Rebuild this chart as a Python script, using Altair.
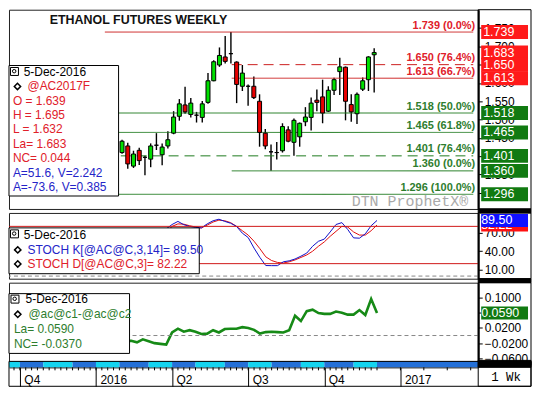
import altair as alt
import pandas as pd

FONT = "Liberation Sans"
MONO = "Liberation Mono"

# ---------------- data ----------------
weeks = [
    "2016-02-01", "2016-02-08", "2016-02-15", "2016-02-22", "2016-02-29",
    "2016-03-07", "2016-03-14", "2016-03-21", "2016-03-28",
    "2016-04-04", "2016-04-11", "2016-04-18", "2016-04-25",
    "2016-05-02", "2016-05-09", "2016-05-16", "2016-05-23", "2016-05-30",
    "2016-06-06", "2016-06-13", "2016-06-20", "2016-06-27",
    "2016-07-04", "2016-07-11", "2016-07-18", "2016-07-25",
    "2016-08-01", "2016-08-08", "2016-08-15", "2016-08-22", "2016-08-29",
    "2016-09-05", "2016-09-12", "2016-09-19", "2016-09-26",
    "2016-10-03", "2016-10-10", "2016-10-17", "2016-10-24", "2016-10-31",
    "2016-11-07", "2016-11-14", "2016-11-21", "2016-11-28",
    "2016-12-05",
]
opens = [1.410, 1.428, 1.373, 1.416, 1.397, 1.392, 1.430, 1.404, 1.428, 1.463,
         1.509, 1.540, 1.514, 1.512, 1.506, 1.547, 1.606, 1.649, 1.671, 1.680,
         1.657, 1.591, 1.591, 1.591, 1.550, 1.463, 1.412, 1.410, 1.415, 1.472,
         1.438, 1.453, 1.494, 1.506, 1.553, 1.562, 1.523, 1.580, 1.631, 1.643,
         1.541, 1.516, 1.583, 1.609, 1.677]
highs = [1.445, 1.437, 1.415, 1.423, 1.401, 1.435, 1.463, 1.435, 1.468, 1.523,
         1.556, 1.590, 1.559, 1.521, 1.551, 1.627, 1.662, 1.697, 1.728, 1.739,
         1.659, 1.649, 1.596, 1.618, 1.569, 1.474, 1.432, 1.439, 1.490, 1.482,
         1.503, 1.492, 1.534, 1.560, 1.582, 1.609, 1.591, 1.614, 1.669, 1.645,
         1.569, 1.574, 1.615, 1.673, 1.695]
lows = [1.407, 1.366, 1.368, 1.376, 1.348, 1.370, 1.417, 1.375, 1.421, 1.460,
        1.497, 1.516, 1.506, 1.492, 1.492, 1.543, 1.605, 1.644, 1.653, 1.653,
        1.545, 1.578, 1.538, 1.556, 1.426, 1.419, 1.360, 1.391, 1.410, 1.438,
        1.401, 1.426, 1.482, 1.470, 1.523, 1.490, 1.521, 1.567, 1.567, 1.498,
        1.494, 1.488, 1.578, 1.578, 1.574]
closes = [1.441, 1.379, 1.406, 1.388, 1.397, 1.428, 1.430, 1.425, 1.445, 1.507,
          1.543, 1.521, 1.545, 1.512, 1.543, 1.606, 1.658, 1.675, 1.659, 1.680,
          1.596, 1.627, 1.591, 1.560, 1.465, 1.428, 1.412, 1.410, 1.481, 1.441,
          1.498, 1.490, 1.507, 1.545, 1.547, 1.518, 1.580, 1.609, 1.644, 1.550,
          1.521, 1.569, 1.606, 1.671, 1.683]
stoch_k = [52, 38, 42, 36, 30, 42, 50, 55, 76, 83, 88, 82.7, 80, 78.5, 77.5, 84,
           89, 91.5, 88, 85, 80, 69, 62, 45, 30, 17, 16.8, 16.8, 23, 24.5, 27.5,
           32, 37, 48, 56, 59.5, 71, 83, 86, 75, 61.5, 61, 68, 81, 89.5]
stoch_d = [55, 45, 40, 39, 36, 36, 41, 49, 70, 80, 84, 83.5, 81, 79, 77.5, 82,
           87, 90, 89, 86, 80, 73, 66, 56, 44, 31, 25, 22, 21, 23, 26, 30, 34,
           40, 48, 55, 64, 72, 80, 79, 71, 66, 66, 73, 82.22]
spread = [-0.012, -0.014, -0.014, -0.018, -0.010, -0.015, -0.020, -0.022, -0.024,
          0.008, 0.018, 0.010, 0.014, 0.010, 0.004, 0.005, 0.014, 0.008, 0.017,
          0.018, 0.018, 0.022, 0.020, 0.015, 0.005, 0.009, 0.010, 0.009, 0.008,
          0.014, 0.052, 0.038, 0.064, 0.068, 0.059, 0.057, 0.057, 0.063, 0.060,
          0.055, 0.055, 0.067, 0.054, 0.096, 0.059]

levels = [1.739, 1.650, 1.613, 1.518, 1.465, 1.401, 1.360, 1.296]
level_pct = ["0.0%", "76.4%", "66.7%", "50.0%", "61.8%", "76.4%", "0.0%", "100.0%"]
level_side = ["red", "red", "red", "green", "green", "green", "green", "green"]
level_dash = ["solid", "dash", "solid", "solid", "solid", "dash", "solid", "solid"]
level_start = ["2016-01-11", "2016-06-14", "2016-06-14", "2016-01-11",
               "2016-01-11", "2016-01-11", "2016-06-14", "2016-01-11"]

price_boxes = [1.739, 1.683, 1.650, 1.613, 1.518, 1.465, 1.401, 1.360, 1.296]
price_box_side = ["red"] * 4 + ["green"] * 5

price_ticks = [1.30, 1.35, 1.40, 1.45, 1.50, 1.55, 1.60, 1.65, 1.70, 1.75]
stoch_ticks = [10, 40, 70]
spread_ticks = [-0.06, -0.02, 0.02, 0.06, 0.10]

band_start = ["2015-09-22", "2015-10-05", "2015-11-02", "2015-12-07", "2016-01-04",
              "2016-02-01", "2016-03-07", "2016-04-04", "2016-05-02", "2016-06-06",
              "2016-07-04", "2016-08-01", "2016-09-05", "2016-10-03", "2016-11-07",
              "2016-12-05"]
band_end = band_start[1:] + ["2017-04-05"]

# ---------------- style ----------------
W, RC = 471, 53
HT, HS, HP = 200, 66, 79
STRIP = 6
RED_BODY, GREEN_BODY = "#e80000", "#00e000"
LINE_RED, LINE_GREEN = "#cc1f1f", "#1f7a1f"
TXT_RED, TXT_GREEN = "#e0202a", "#2e7d2e"
BOX_RED, BOX_GREEN = "#ff1a1a", "#117a11"
TXT_BLUE = "#2424c8"
K_BLUE, D_RED = "#1010c8", "#e01010"
SPREAD_GREEN = "#168a16"
CYAN, BLUE = "#14d4f0", "#2470d8"

END = "2017-04-05"
xs = alt.Scale(type="utc", domain=[alt.DateTime(year=2015, month=9, date=22, utc=True),
                                   alt.DateTime(year=2017, month=4, date=5, utc=True)])
ONE = pd.DataFrame({"t": [0]})


def raxis(values, fmt):
    return alt.Axis(orient="right", values=values, format=fmt, title=None, grid=False,
                    domainColor="black", domainWidth=2, tickColor="black", tickSize=4,
                    labelPadding=2, labelFont=FONT, labelFontSize=12, labelColor="black",
                    labelOverlap=False, labelFlush=False)


AX_T = raxis(price_ticks, ".3f")
AX_S = raxis(stoch_ticks, ".2f")
AX_P = raxis(spread_ticks, ".4f")
XAX = alt.Axis(
    values=[alt.DateTime(year=2015, month=10, date=5, utc=True),
            alt.DateTime(year=2016, month=1, date=4, utc=True),
            alt.DateTime(year=2016, month=4, date=4, utc=True),
            alt.DateTime(year=2016, month=7, date=4, utc=True),
            alt.DateTime(year=2016, month=10, date=3, utc=True),
            alt.DateTime(year=2017, month=1, date=2, utc=True)],
    labelExpr="utcmonth(datum.value) == 0 ? utcFormat(datum.value, '%Y') : 'Q' + (floor(utcmonth(datum.value) / 3) + 1)",
    offset=STRIP, tickSize=19, tickColor="black", domainColor="black", labelAlign="left",
    labelBaseline="middle", labelPadding=-6.5, labelOffset=4, labelFont=FONT, labelFontSize=12,
    labelColor="black", grid=False, title=None, labelOverlap=False, labelFlush=False)


def xenc(field, axis=None):
    if axis is None:
        return alt.X(field, scale=xs, axis=None)
    return alt.X(field, scale=xs, axis=axis)


def text_at(s, x, y, color="black", size=12, align="left", weight="normal", font=FONT):
    return alt.Chart(pd.DataFrame({"t": [s]})).mark_text(
        align=align, baseline="middle", fontSize=size, fontWeight=weight, font=font,
        color=color).encode(x=alt.value(x), y=alt.value(y), text="t:N")


def box_at(x1, x2, y1, y2, fill="white", opacity=1.0, stroke="black", sw=1.0):
    return alt.Chart(ONE).mark_rect(fill=fill, fillOpacity=opacity, stroke=stroke,
                                    strokeWidth=sw).encode(
        x=alt.value(x1), x2=alt.value(x2), y=alt.value(y1), y2=alt.value(y2))


def diamond_at(x, y):
    return alt.Chart(ONE).mark_point(shape="diamond", size=40, filled=True, fill="white",
                                     stroke="black", strokeWidth=1.5, opacity=1).encode(
        x=alt.value(x), y=alt.value(y))


def icon_at(x, y):
    sq = box_at(x, x + 8, y, y + 8)
    c = alt.Chart(ONE).mark_point(shape="circle", size=12, filled=False, stroke="black",
                                  strokeWidth=1, opacity=1).encode(
        x=alt.value(x + 3.7), y=alt.value(y + 3.7))
    return alt.layer(sq, c)


def right_column(h):
    return alt.layer(box_at(W, W + RC, 0, h, fill="white", opacity=0.0, sw=1),
                     box_at(W, W + RC, h, h + 4, fill="black", stroke="black"))


# ---------------- top panel ----------------
yT = alt.Scale(domain=[1.256, 1.800], nice=False, zero=False)
cdf = pd.DataFrame({"date": weeks, "open": opens, "high": highs, "low": lows, "close": closes})
lv = pd.DataFrame({
    "level": levels,
    "label": [f"{v:.3f} ({p})" for v, p in zip(levels, level_pct)],
    "lc": [LINE_RED if s == "red" else LINE_GREEN for s in level_side],
    "tc": [TXT_RED if s == "red" else TXT_GREEN for s in level_side],
    "dash": level_dash, "start": level_start, "end": [END] * len(levels)})

wick = alt.Chart(cdf).mark_rule(color="black", strokeWidth=1.4).encode(
    x=xenc("date:T"), y=alt.Y("low:Q", scale=yT, axis=AX_T), y2="high:Q")
level_rules = alt.Chart(lv).mark_rule(strokeWidth=1).encode(
    x=xenc("start:T"), x2="end:T",
    y=alt.Y("level:Q", scale=yT, axis=AX_T),
    color=alt.Color("lc:N", scale=None),
    strokeDash=alt.StrokeDash("dash:N", scale=alt.Scale(domain=["solid", "dash"],
                                                         range=[[1, 0], [10, 6]]), legend=None))
level_labels = alt.Chart(lv).mark_text(align="right", baseline="alphabetic", dy=-3.5,
                                       fontSize=11, fontWeight="bold", font=FONT).encode(
    x=alt.value(W - 3), y=alt.Y("level:Q", scale=yT, axis=AX_T), text="label:N",
    color=alt.Color("tc:N", scale=None))
body = alt.Chart(cdf).mark_bar(size=4, stroke="black", strokeWidth=1).encode(
    x=xenc("date:T"), y=alt.Y("open:Q", scale=yT, axis=AX_T), y2="close:Q",
    color=alt.condition("datum.close < datum.open", alt.value(RED_BODY), alt.value(GREEN_BODY)))

pb = pd.DataFrame({"v": price_boxes, "lab": [f"{v:.3f}" for v in price_boxes],
                   "bc": [BOX_RED if s == "red" else BOX_GREEN for s in price_box_side]})
pbox = alt.Chart(pb).mark_tick(orient="horizontal", thickness=14, size=47, opacity=1).encode(
    x=alt.value(W + 26.5), y=alt.Y("v:Q", scale=yT, axis=AX_T), color=alt.Color("bc:N", scale=None))
ptxt = alt.Chart(pb).mark_text(align="left", baseline="middle", color="white", fontSize=12.5,
                               font=FONT).encode(
    x=alt.value(W + 5), y=alt.Y("v:Q", scale=yT, axis=AX_T), text="lab:N")

legend1 = [
    box_at(0, 110, 56, 187),
    icon_at(1.5, 58),
    text_at("5-Dec-2016", 14.7, 62.5),
    diamond_at(8.5, 77),
    text_at("@AC2017F", 18.6, 77, TXT_RED),
    text_at("O = 1.639", 3.9, 91.7, TXT_RED),
    text_at("H = 1.695", 3.9, 105.4, TXT_RED),
    text_at("L = 1.632", 3.9, 120, TXT_RED),
    text_at("La= 1.683", 3.9, 134.7, TXT_RED),
    text_at("NC= 0.044", 3.9, 149.3, TXT_RED),
    text_at("A=51.6, V=2.242", 3.9, 164, TXT_BLUE),
    text_at("A=-73.6, V=0.385", 3.9, 177.6, TXT_BLUE),
]

top = alt.layer(
    wick, level_rules, level_labels,
    text_at("DTN ProphetX®", 461, 192, "#a9a9a9", 15, "right", font=MONO),
    body, *legend1,
    text_at("ETHANOL FUTURES WEEKLY", 130, 10.5, "#111111", 12.5, "center", "bold"),
    right_column(HT), pbox, ptxt,
).properties(width=W, height=HT)

# ---------------- stochastic panel ----------------
yS = alt.Scale(domain=[-4.2, 101.6], nice=False, zero=False)
sdf = pd.DataFrame({"date": weeks, "K": stoch_k, "D": stoch_d})
d_line = alt.Chart(sdf).mark_line(color=D_RED, strokeWidth=1).encode(
    x=xenc("date:T"), y=alt.Y("D:Q", scale=yS, axis=AX_S))
k_line = alt.Chart(sdf).mark_line(color=K_BLUE, strokeWidth=1).encode(
    x=xenc("date:T"), y=alt.Y("K:Q", scale=yS, axis=AX_S))
s_rules = alt.Chart(pd.DataFrame({"v": [80, 20]})).mark_rule(color="#d01818", strokeWidth=1).encode(
    y=alt.Y("v:Q", scale=yS, axis=AX_S))
s_zero = alt.Chart(pd.DataFrame({"v": [0]})).mark_rule(color="#888888", strokeWidth=1,
                                                        strokeDash=[4, 3]).encode(
    y=alt.Y("v:Q", scale=yS, axis=AX_S))
sb = pd.DataFrame({"v": [82.22, 89.50], "lab": ["82.22", "89.50"], "bc": ["#ff1010", "#1010ff"]})


def sbox_layer(cond):
    b = alt.Chart(sb).transform_filter(cond).mark_tick(
        orient="horizontal", thickness=13, size=47, opacity=1).encode(
        x=alt.value(W + 26.5), y=alt.Y("v:Q", scale=yS, axis=AX_S),
        color=alt.Color("bc:N", scale=None))
    t = alt.Chart(sb).transform_filter(cond).mark_text(
        align="left", baseline="middle", color="white", fontSize=12.5, font=FONT).encode(
        x=alt.value(W + 3), y=alt.Y("v:Q", scale=yS, axis=AX_S), text="lab:N")
    return alt.layer(b, t)


legend2 = [
    box_at(0, 191, 15, 61),
    icon_at(1.5, 17),
    text_at("5-Dec-2016", 14.7, 21.7),
    diamond_at(8.8, 37.1),
    text_at("STOCH K[@AC@C,3,14]= 89.50", 18.6, 37.1, TXT_BLUE),
    diamond_at(8.8, 51.2),
    text_at("STOCH D[@AC@C,3]= 82.22", 18.6, 51.2, TXT_RED),
]
stoch = alt.layer(d_line, k_line, s_rules, s_zero, *legend2, right_column(HS),
                  sbox_layer("datum.v < 85"), sbox_layer("datum.v > 85"),
                  ).properties(width=W, height=HS)

# ---------------- spread panel ----------------
yP = alt.Scale(domain=[-0.068, 0.139], nice=False, zero=False)
pdf = pd.DataFrame({"date": weeks, "spread": spread})
p_line = alt.Chart(pdf).mark_line(color=SPREAD_GREEN, strokeWidth=2.6).encode(
    x=xenc("date:T", XAX), y=alt.Y("spread:Q", scale=yP, axis=AX_P))
p_zero = alt.Chart(pd.DataFrame({"v": [0.0]})).mark_rule(color="#888888", strokeWidth=1,
                                                          strokeDash=[4, 3]).encode(
    y=alt.Y("v:Q", scale=yP, axis=AX_P))
bands = pd.DataFrame({"s": band_start, "e": band_end,
                      "c": [CYAN if i % 2 == 0 else BLUE for i in range(len(band_start))]})
strip = alt.Chart(bands).mark_rect().encode(
    x=xenc("s:T", XAX), x2="e:T", y=alt.value(HP), y2=alt.value(HP + STRIP),
    color=alt.Color("c:N", scale=None))
minor = [d.strftime("%Y-%m-%d") for d in pd.date_range("2015-09-28", "2016-12-05", freq="7D")] + \
        ["2017-01-02", "2017-01-30", "2017-02-27", "2017-03-27"]
minor_ticks = alt.Chart(pd.DataFrame({"d": minor})).mark_rule(color="black", strokeWidth=1).encode(
    x=xenc("d:T", XAX), y=alt.value(HP + STRIP), y2=alt.value(HP + STRIP + 3))
pbx = pd.DataFrame({"v": [0.059], "lab": ["0.0590"]})
pbox2 = alt.Chart(pbx).mark_tick(orient="horizontal", thickness=13, size=47, opacity=1,
                                 color=BOX_GREEN).encode(
    x=alt.value(W + 26.5), y=alt.Y("v:Q", scale=yP, axis=AX_P))
ptxt2 = alt.Chart(pbx).mark_text(align="left", baseline="middle", color="white", fontSize=12.5,
                                 font=FONT).encode(
    x=alt.value(W + 3), y=alt.Y("v:Q", scale=yP, axis=AX_P), text="lab:N")
legend3 = [
    box_at(0, 121, 11, 71),
    icon_at(2, 12.5),
    text_at("5-Dec-2016", 16.6, 16.8),
    diamond_at(8.8, 31.7),
    text_at("@ac@c1-@ac@c2", 19.5, 31.7, TXT_GREEN),
    text_at("La= 0.0590", 4.9, 46.5, TXT_GREEN),
    text_at("NC= -0.0370", 4.9, 61.4, TXT_GREEN),
]
bottom_frame = [
    box_at(0, W + RC, HP, HP + STRIP + 19, fill="white", opacity=0.0),
    box_at(W, W + RC, HP, HP + STRIP + 19, fill="white", opacity=0.0),
    box_at(W, W + RC, HP - 1, HP + STRIP, fill="black"),
    text_at("1 Wk", W + 28, HP + STRIP + 10, "black", 12.5, "center", font=MONO),
]
spread_panel = alt.layer(p_line, p_zero, *legend3, right_column(HP), pbox2, ptxt2,
                         strip, minor_ticks, *bottom_frame).properties(width=W, height=HP)

chart = alt.vconcat(top, stoch, spread_panel, spacing=4).properties(
    padding=0, background="white", bounds="flush"
).configure_view(stroke="#222222", strokeWidth=1)

chart.save("out.html", embed_options={"renderer": "svg", "actions": False})
